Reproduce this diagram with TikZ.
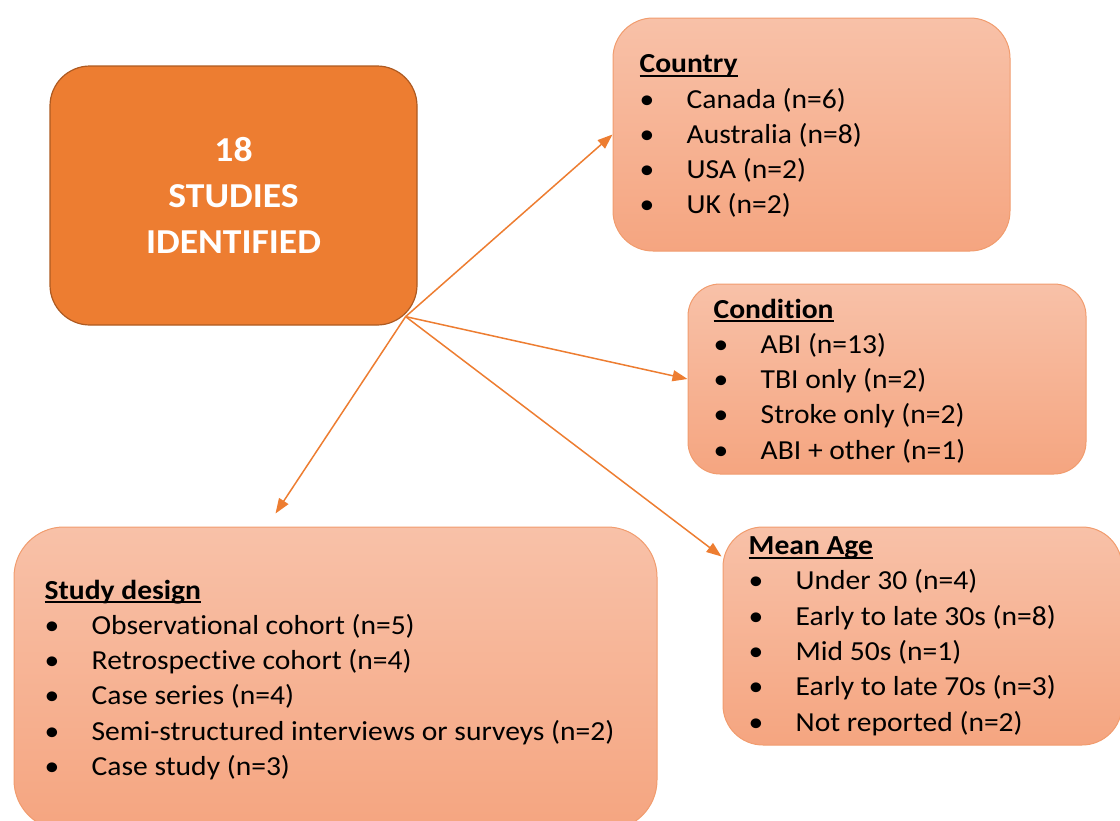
\documentclass[tikz,border=0pt]{standalone}
\usepackage{fontspec}
\setmainfont[Ligatures=NoCommon,FakeStretch=1.075]{Carlito}
\usepackage{tikz}
\usetikzlibrary{calc,arrows.meta}
\definecolor{deeporange}{RGB}{ 237, 125, 49 }
\definecolor{rustedge}{RGB}{ 174, 90, 33 }
\definecolor{peachtop}{RGB}{ 248, 193, 168 }
\definecolor{peachbot}{RGB}{ 245, 165, 128 }
\definecolor{peachedge}{RGB}{ 241, 156, 110 }
\newcommand{\blt}{\makebox[47pt][l]{\textbullet}}
\newcommand{\hdr}[1]{\setbox0\hbox{\textbf{#1}}\rlap{\rule[-4pt]{\wd0}{2pt}}\box0}

\begin{document}
\begin{tikzpicture}[x=1pt,y=-1pt]
\tikzstyle{main box}=[draw=rustedge,line width=1.2pt,fill=deeporange,rounded corners=40pt,
    minimum width=367pt,minimum height=259pt,inner sep=0]
\tikzstyle{peach box}=[draw=peachedge,line width=1pt,top color=peachtop,bottom color=peachbot,
    rounded corners=40pt,inner sep=0]
\tikzstyle{list}=[anchor=north west,align=left,inner sep=0,font=\fontsize{27.5}{35.3}\selectfont]
\tikzstyle{arrow}=[draw=deeporange,line width=1.5pt,-{Triangle[length=15pt,width=11pt]}]

\useasboundingbox (0,0) rectangle (1120,820);

% boxes
\node(main)[main box,font=\fontsize{35}{46}\selectfont\bfseries,text=white,align=center]
    at (233.5,195.5) {18\\STUDIES\\IDENTIFIED};
\node(country)[peach box,minimum width=397pt,minimum height=233pt] at (811.5,134.5) {};
\node(cond)[peach box,rounded corners=32pt,minimum width=398pt,minimum height=190pt] at (887,379) {};
\node(age)[peach box,minimum width=399pt,minimum height=218pt] at (922.5,636) {};
\node(design)[peach box,rounded corners=50pt,minimum width=643pt,minimum height=303pt] at (335.5,678.5) {};

% lists
\node(cntlist)[list] at ($(country.north west)+(27,37)$) {%
    \hdr{Country}\\
    \blt Canada (n=6)\\
    \blt Australia (n=8)\\
    \blt USA (n=2)\\
    \blt UK (n=2)};
\node(condlist)[list] at ($(cond.north west)+(26,15)$) {%
    \hdr{Condition}\\
    \blt ABI (n=13)\\
    \blt TBI only (n=2)\\
    \blt Stroke only (n=2)\\
    \blt ABI + other (n=1)};
\node(agelist)[list] at ($(age.north west)+(26,10)$) {%
    \hdr{Mean Age}\\
    \blt Under 30 (n=4)\\
    \blt Early to late 30s (n=8)\\
    \blt Mid 50s (n=1)\\
    \blt Early to late 70s (n=3)\\
    \blt Not reported (n=2)};
\node(dsglist)[list] at ($(design.north west)+(31,53)$) {%
    \hdr{Study design}\\
    \blt Observational cohort (n=5)\\
    \blt Retrospective cohort (n=4)\\
    \blt Case series (n=4)\\
    \blt Semi-structured interviews or surveys (n=2)\\
    \blt Case study (n=3)};

% arrows out of the main box
\coordinate(hub) at ($(main.south east)+(-12,-9)$);
\coordinate(dsgtip) at ($(design.north)+(-60,-13)$);
\coordinate(agetip) at ($(age.north west)+(-1,30)$);
\draw[arrow] (hub) -- (country.west);
\draw[arrow] (hub) -- (cond.west);
\draw[arrow] (hub) -- (dsgtip);
\draw[arrow] (hub) -- (agetip);

\end{tikzpicture}
\end{document}
